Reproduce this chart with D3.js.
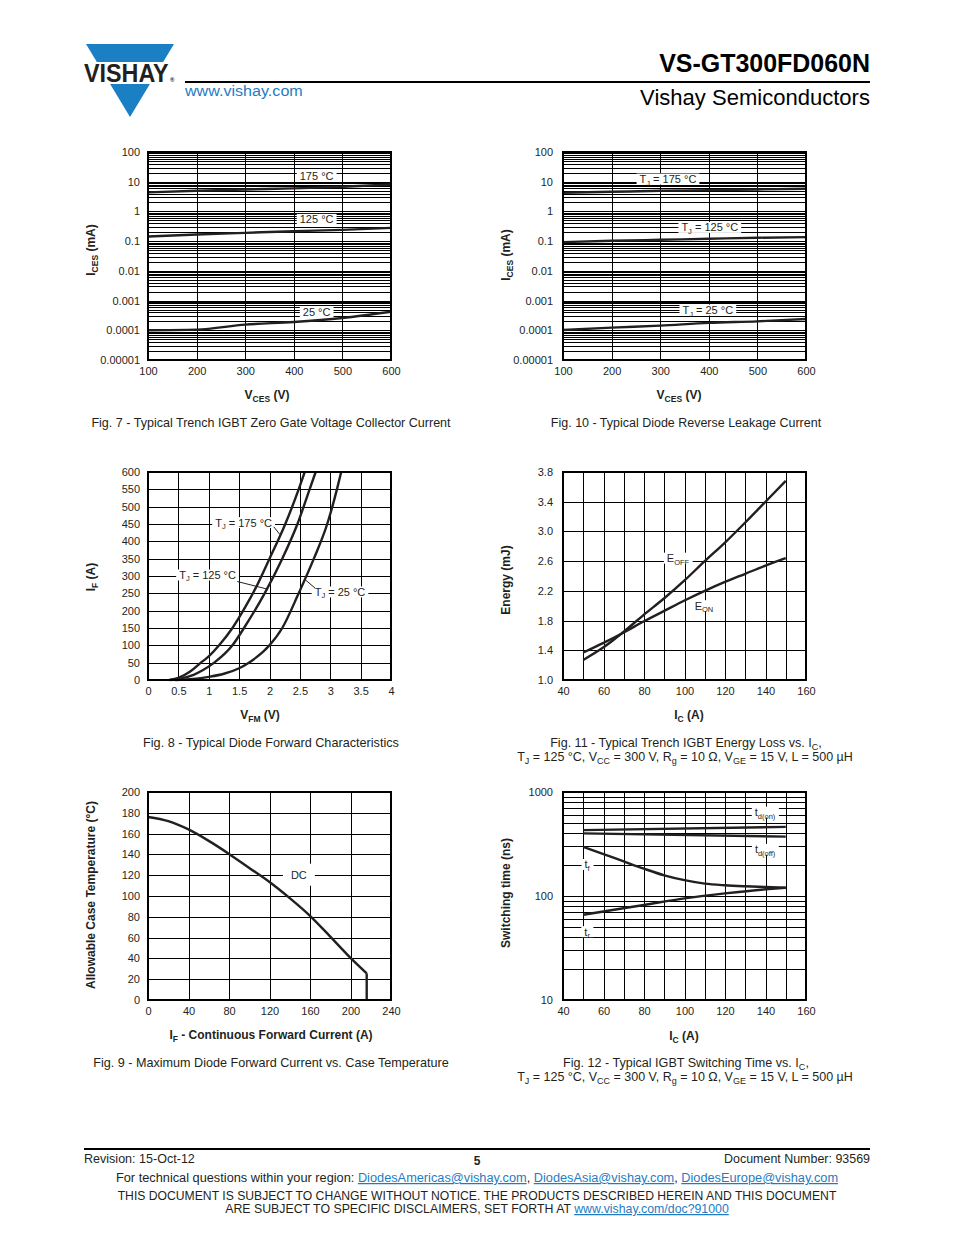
<!DOCTYPE html>
<html><head><meta charset="utf-8">
<script src="https://cdn.jsdelivr.net/npm/d3@7"></script>
<style>
body{margin:0;background:#fff}
svg{display:block}
text{font-family:"Liberation Sans",Arial,Helvetica,sans-serif;fill:#231f20}
</style></head><body>
<svg id="page" width="954" height="1235"></svg>
<script>
// ---------------- DATA ----------------
// Fig. 7 - IGBT zero gate voltage collector current
const fig7Vces = [100, 200, 300, 400, 500, 600];
const fig7Ices175 = [4.36, 4.96, 5.5, 5.95, 6.8, 8.1];
const fig7Ices125 = [0.143, 0.167, 0.19, 0.216, 0.24, 0.28];
const fig7Ices25 = [0.0001, 0.000105, 0.000155, 0.00019, 0.00026, 0.00042];
const fig7XTicks = [100, 200, 300, 400, 500, 600];
const fig7XTickLabels = ["100", "200", "300", "400", "500", "600"];
const fig7YTicks = [0.00001, 0.0001, 0.001, 0.01, 0.1, 1, 10, 100];
const fig7YTickLabels = ["0.00001", "0.0001", "0.001", "0.01", "0.1", "1", "10", "100"];

// Fig. 10 - Diode reverse leakage current
const fig10Vces = [100, 200, 300, 400, 500, 600];
const fig10Ices175 = [4.23, 4.57, 4.95, 5.2, 5.5, 5.8];
const fig10Ices125 = [0.0925, 0.1026, 0.111, 0.12, 0.13, 0.137];
const fig10Ices25 = [0.000102, 0.000123, 0.000144, 0.000177, 0.0002, 0.00024];

// Fig. 8 - Diode forward characteristics
const fig8Vf175 = [0.35, 0.5, 0.7, 0.87, 1.0, 1.17, 1.39, 1.6, 1.8, 2.0, 2.26, 2.48, 2.58];
const fig8If175 = [0, 6, 25, 50, 68, 100, 150, 210, 275, 350, 450, 550, 600];
const fig8Vf125 = [0.37, 0.5, 0.75, 0.9, 1.09, 1.39, 1.58, 1.92, 2.21, 2.46, 2.66, 2.76];
const fig8If125 = [0, 3, 15, 28, 50, 100, 150, 250, 350, 450, 550, 600];
const fig8Vf25 = [0.45, 0.75, 1.0, 1.25, 1.5, 1.66, 2.0, 2.21, 2.48, 2.73, 2.95, 3.11, 3.18];
const fig8If25 = [0, 3, 9, 18, 34, 50, 100, 150, 250, 350, 450, 550, 600];
const fig8XTicks = [0, 0.5, 1, 1.5, 2, 2.5, 3, 3.5, 4];
const fig8XTickLabels = ["0", "0.5", "1", "1.5", "2", "2.5", "3", "3.5", "4"];
const fig8YTicks = [0, 50, 100, 150, 200, 250, 300, 350, 400, 450, 500, 550, 600];

// Fig. 11 - Energy loss vs. IC
const fig11Ic = [50, 60, 70, 80, 90, 100, 110, 120, 130, 140, 150];
const fig11Eoff = [1.27, 1.44, 1.65, 1.88, 2.1, 2.34, 2.6, 2.85, 3.12, 3.4, 3.68];
const fig11Eon = [1.37, 1.5, 1.64, 1.79, 1.93, 2.07, 2.2, 2.32, 2.43, 2.54, 2.64];
const fig11XTicks = [40, 60, 80, 100, 120, 140, 160];
const fig11XGrid = [40, 50, 60, 70, 80, 90, 100, 110, 120, 130, 140, 150, 160];
const fig11YTicks = [1.0, 1.4, 1.8, 2.2, 2.6, 3.0, 3.4, 3.8];
const fig11YTickLabels = ["1.0", "1.4", "1.8", "2.2", "2.6", "3.0", "3.4", "3.8"];

// Fig. 9 - Maximum diode forward current vs. case temperature
const fig9If = [0, 20, 40, 60, 80, 100, 120, 140, 160, 180, 200, 216];
const fig9Tc = [176, 172, 164, 153, 140.5, 127, 113.5, 98, 81, 61, 40.5, 25.6];
const fig9CutoffIf = [216, 216];
const fig9CutoffTc = [25.6, 0];
const fig9XTicks = [0, 40, 80, 120, 160, 200, 240];
const fig9YTicks = [0, 20, 40, 60, 80, 100, 120, 140, 160, 180, 200];

// Fig. 12 - Switching time vs. IC
const fig12IcLine = [50, 150];
const fig12TdOn = [430, 462];
const fig12TdOff = [400, 372];
const fig12IcTf = [50, 60, 70, 80, 90, 100, 110, 120, 130, 140, 150];
const fig12Tf = [297, 253, 215, 183, 158, 142, 131.5, 126.8, 124, 122, 120];
const fig12IcTr = [50, 60, 80, 100, 120, 140, 150];
const fig12Tr = [66, 71, 82, 95, 106, 116, 120];
const fig12YTicks = [10, 100, 1000];
const fig12YTickLabels = ["10", "100", "1000"];

// ---------------- DRAWING ----------------
const svg = d3.select("#page");
const INK = "#231f20";
const BLUE = "#1f7cc1";
const LEFT = [148, 391], RIGHT = [563, 806];
const ROWS = [[152, 360], [472, 680], [792, 1000]];

function addRich(sel, parts, subSize, shift) {
  let pending = 0;
  parts.forEach(p => {
    const isSub = Array.isArray(p);
    const t = sel.append("tspan").text(isSub ? p[0] : p);
    if (isSub) { t.attr("font-size", subSize).attr("dy", shift + pending); pending = -shift; }
    else if (pending) { t.attr("dy", pending); pending = 0; }
  });
  return sel;
}
function fitWidth(sel, target) {
  const w = sel.node().getBBox().width;
  const xx = +sel.attr("x");
  sel.attr("transform", `translate(${xx},0) scale(${target / w},1) translate(${-xx},0)`);
}

function drawPanel(cfg) {
  const [x0, x1] = cfg.xr, [y0, y1] = cfg.yr;
  const x = d3.scaleLinear().domain(cfg.xDomain).range([x0, x1]);
  const y = (cfg.log ? d3.scaleLog() : d3.scaleLinear()).domain(cfg.yDomain).range([y1, y0]);
  const g = svg.append("g");
  const yGrid = cfg.yGrid || y.ticks();

  // grid
  const gg = g.append("g");
  gg.append("g").attr("transform", `translate(0,${y1})`)
    .call(d3.axisBottom(x).tickValues(cfg.xGrid).tickSize(-(y1 - y0)).tickFormat(""));
  gg.append("g").attr("transform", `translate(${x0},0)`)
    .call(d3.axisLeft(y).tickValues(yGrid).tickSize(-(x1 - x0)).tickFormat(""));
  gg.selectAll(".domain").remove();
  gg.selectAll(".tick line").attr("stroke", "#000").attr("stroke-width", 1).attr("shape-rendering", "crispEdges");

  // tick labels
  const ax = g.append("g").attr("transform", `translate(0,${y1})`)
    .call(d3.axisBottom(x).tickValues(cfg.xTicks).tickFormat((d, i) => cfg.xTickLabels[i]).tickSize(0).tickPadding(7));
  const ay = g.append("g").attr("transform", `translate(${x0},0)`)
    .call(d3.axisLeft(y).tickValues(cfg.yTicks).tickFormat((d, i) => cfg.yTickLabels[i]).tickSize(0).tickPadding(cfg.yPad));
  [ax, ay].forEach(a => {
    a.select(".domain").remove();
    a.attr("font-family", null).attr("font-size", null);
    a.selectAll("text").attr("font-size", 11).attr("fill", INK);
  });

  // labels with white boxes
  (cfg.labels || []).forEach(l => {
    const lg = g.append("g");
    const t = lg.append("text").attr("x", x(l.x)).attr("y", y(l.y) + 4)
      .attr("text-anchor", "middle").attr("font-size", 11);
    addRich(t, l.parts, 7.5, 2.5);
    const b = t.node().getBBox();
    const padX = l.padX || 3, h = l.h || 11;
    lg.insert("rect", "text").attr("x", b.x - padX).attr("y", y(l.y) - h / 2)
      .attr("width", b.width + 2 * padX).attr("height", h).attr("fill", "#fff");
  });

  // leaders
  (cfg.leaders || []).forEach(L => {
    g.append("line").attr("x1", x(L[0])).attr("y1", y(L[1])).attr("x2", x(L[2])).attr("y2", y(L[3]))
      .attr("stroke", INK).attr("stroke-width", 1);
  });

  // curves
  cfg.series.forEach(s => {
    const pts = s.x.map((v, i) => [v, s.y[i]]);
    g.append("path")
      .attr("d", d3.line().x(d => x(d[0])).y(d => y(d[1])).curve(s.curve || d3.curveMonotoneX)(pts))
      .attr("fill", "none").attr("stroke", INK).attr("stroke-width", 2.4)
      .attr("stroke-linejoin", "round");
  });

  // frame
  g.append("rect").attr("x", x0).attr("y", y0).attr("width", x1 - x0).attr("height", y1 - y0)
    .attr("fill", "none").attr("stroke", "#000").attr("stroke-width", 2);

  // axis titles
  const xt = g.append("text").attr("x", cfg.xTitlePos[0]).attr("y", cfg.xTitlePos[1])
    .attr("text-anchor", "middle").attr("font-size", 12).attr("font-weight", "bold");
  addRich(xt, cfg.xTitle, 8.5, 3);
  const yt = g.append("text").attr("transform", `translate(${cfg.yTitlePos[0]},${cfg.yTitlePos[1]}) rotate(-90)`)
    .attr("text-anchor", "middle").attr("font-size", 12).attr("font-weight", "bold");
  addRich(yt, cfg.yTitle, 8.5, 3);

  // caption
  cfg.caption.forEach(c => {
    const t = g.append("text").attr("x", c.x).attr("y", c.y).attr("text-anchor", "middle").attr("font-size", 12.5);
    addRich(t, c.parts, 9, 3);
    fitWidth(t, c.w);
  });
}

// Fig 7
drawPanel({
  xr: LEFT, yr: ROWS[0], xDomain: [100, 600], yDomain: [0.00001, 100], log: true,
  xGrid: fig7XTicks, xTicks: fig7XTicks, xTickLabels: fig7XTickLabels,
  yTicks: fig7YTicks, yTickLabels: fig7YTickLabels, yPad: 8,
  series: [{ x: fig7Vces, y: fig7Ices175 }, { x: fig7Vces, y: fig7Ices125 }, { x: fig7Vces, y: fig7Ices25 }],
  labels: [
    { x: 447, y: 15.5, parts: ["175 °C"] },
    { x: 447, y: 0.54, parts: ["125 °C"] },
    { x: 447, y: 0.00041, parts: ["25 °C"] }
  ],
  xTitle: ["V", ["CES"], " (V)"], xTitlePos: [267, 399],
  yTitle: ["I", ["CES"], " (mA)"], yTitlePos: [95, 250],
  caption: [{ x: 271, y: 427, w: 360, parts: ["Fig. 7 - Typical Trench IGBT Zero Gate Voltage Collector Current"] }]
});

// Fig 10
drawPanel({
  xr: RIGHT, yr: ROWS[0], xDomain: [100, 600], yDomain: [0.00001, 100], log: true,
  xGrid: fig7XTicks, xTicks: fig7XTicks, xTickLabels: fig7XTickLabels,
  yTicks: fig7YTicks, yTickLabels: fig7YTickLabels, yPad: 10,
  series: [{ x: fig10Vces, y: fig10Ices175 }, { x: fig10Vces, y: fig10Ices125 }, { x: fig10Vces, y: fig10Ices25 }],
  labels: [
    { x: 316, y: 12.3, parts: ["T", ["J"], " = 175 °C"] },
    { x: 402, y: 0.29, parts: ["T", ["J"], " = 125 °C"] },
    { x: 398, y: 0.00048, parts: ["T", ["J"], " = 25 °C"] }
  ],
  xTitle: ["V", ["CES"], " (V)"], xTitlePos: [679, 399],
  yTitle: ["I", ["CES"], " (mA)"], yTitlePos: [510, 255],
  caption: [{ x: 686, y: 427, w: 271, parts: ["Fig. 10 - Typical Diode Reverse Leakage Current"] }]
});

// Fig 8
drawPanel({
  xr: LEFT, yr: ROWS[1], xDomain: [0, 4], yDomain: [0, 600],
  xGrid: fig8XTicks, xTicks: fig8XTicks, xTickLabels: fig8XTickLabels,
  yGrid: fig8YTicks, yTicks: fig8YTicks, yTickLabels: fig8YTicks.map(String), yPad: 8,
  series: [{ x: fig8Vf175, y: fig8If175 }, { x: fig8Vf125, y: fig8If125 }, { x: fig8Vf25, y: fig8If25 }],
  labels: [
    { x: 1.574, y: 454, parts: ["T", ["J"], " = 175 °C"] },
    { x: 0.98, y: 303, parts: ["T", ["J"], " = 125 °C"] },
    { x: 3.16, y: 254, parts: ["T", ["J"], " = 25 °C"] }
  ],
  leaders: [[2.07, 442, 2.17, 420], [1.47, 284, 1.97, 262], [2.75, 265, 2.57, 292]],
  xTitle: ["V", ["FM"], " (V)"], xTitlePos: [260, 719],
  yTitle: ["I", ["F"], " (A)"], yTitlePos: [95, 577],
  caption: [{ x: 271, y: 747, w: 256, parts: ["Fig. 8 - Typical Diode Forward Characteristics"] }]
});

// Fig 11
drawPanel({
  xr: RIGHT, yr: ROWS[1], xDomain: [40, 160], yDomain: [1.0, 3.8],
  xGrid: fig11XGrid, xTicks: fig11XTicks, xTickLabels: fig11XTicks.map(String),
  yGrid: fig11YTicks, yTicks: fig11YTicks, yTickLabels: fig11YTickLabels, yPad: 10,
  series: [{ x: fig11Ic, y: fig11Eoff }, { x: fig11Ic, y: fig11Eon }],
  labels: [
    { x: 96.8, y: 2.64, parts: ["E", ["OFF"]] },
    { x: 109.6, y: 2.0, parts: ["E", ["ON"]] }
  ],
  xTitle: ["I", ["C"], " (A)"], xTitlePos: [689, 719],
  yTitle: ["Energy (mJ)"], yTitlePos: [510, 580],
  caption: [
    { x: 686, y: 747, w: 272, parts: ["Fig. 11 - Typical Trench IGBT Energy Loss vs. I", ["C"], ","] },
    { x: 685, y: 761, w: 336, parts: ["T", ["J"], " = 125 °C, V", ["CC"], " = 300 V, R", ["g"], " = 10 Ω, V", ["GE"], " = 15 V, L = 500 µH"] }
  ]
});

// Fig 9
drawPanel({
  xr: LEFT, yr: ROWS[2], xDomain: [0, 240], yDomain: [0, 200],
  xGrid: fig9XTicks, xTicks: fig9XTicks, xTickLabels: fig9XTicks.map(String),
  yGrid: fig9YTicks, yTicks: fig9YTicks, yTickLabels: fig9YTicks.map(String), yPad: 8,
  series: [{ x: fig9If, y: fig9Tc }, { x: fig9CutoffIf, y: fig9CutoffTc, curve: d3.curveLinear }],
  labels: [{ x: 149, y: 120.5, parts: ["DC"], padX: 8, h: 22 }],
  xTitle: ["I", ["F"], " - Continuous Forward Current (A)"], xTitlePos: [271, 1039],
  yTitle: ["Allowable Case Temperature (°C)"], yTitlePos: [95, 895],
  caption: [{ x: 271, y: 1067, w: 356, parts: ["Fig. 9 - Maximum Diode Forward Current vs. Case Temperature"] }]
});

// Fig 12
drawPanel({
  xr: RIGHT, yr: ROWS[2], xDomain: [40, 160], yDomain: [10, 1000], log: true,
  xGrid: fig11XGrid, xTicks: fig11XTicks, xTickLabels: fig11XTicks.map(String),
  yTicks: fig12YTicks, yTickLabels: fig12YTickLabels, yPad: 10,
  series: [
    { x: fig12IcLine, y: fig12TdOn, curve: d3.curveLinear },
    { x: fig12IcLine, y: fig12TdOff, curve: d3.curveLinear },
    { x: fig12IcTf, y: fig12Tf },
    { x: fig12IcTr, y: fig12Tr }
  ],
  labels: [
    { x: 139.8, y: 641, parts: ["t", ["d(on)"]] },
    { x: 139.8, y: 281, parts: ["t", ["d(off)"]] },
    { x: 51.9, y: 201, parts: ["t", ["f"]] },
    { x: 51.9, y: 45.4, parts: ["t", ["r"]] }
  ],
  xTitle: ["I", ["C"], " (A)"], xTitlePos: [684, 1040],
  yTitle: ["Switching time (ns)"], yTitlePos: [510, 893],
  caption: [
    { x: 686, y: 1067, w: 246, parts: ["Fig. 12 - Typical IGBT Switching Time vs. I", ["C"], ","] },
    { x: 685, y: 1081, w: 336, parts: ["T", ["J"], " = 125 °C, V", ["CC"], " = 300 V, R", ["g"], " = 10 Ω, V", ["GE"], " = 15 V, L = 500 µH"] }
  ]
});

// ---------------- HEADER ----------------
const logo = svg.append("g");
logo.append("polygon").attr("points", "86,44 174,44 130,117").attr("fill", "#1b7fc3");
logo.append("rect").attr("x", 80).attr("y", 62).attr("width", 100).attr("height", 22).attr("fill", "#fff");
const vt = logo.append("text").attr("x", 84).attr("y", 82).attr("font-size", 25).attr("font-weight", "bold")
  .attr("fill", INK).text("VISHAY");
fitWidth(vt, 85);
logo.append("text").attr("x", 170).attr("y", 82).attr("font-size", 6).attr("font-weight", "bold").text("®");

svg.append("line").attr("x1", 185).attr("x2", 870).attr("y1", 82).attr("y2", 82).attr("stroke", "#000").attr("stroke-width", 2);
const www = svg.append("text").attr("x", 185).attr("y", 96).attr("font-size", 15).style("fill", BLUE).text("www.vishay.com");
fitWidth(www, 119);
const pn = svg.append("text").attr("x", 870).attr("y", 72).attr("text-anchor", "end").attr("font-size", 25)
  .attr("font-weight", "bold").style("fill", "#000").text("VS-GT300FD060N");
fitWidth(pn, 211);
const vs = svg.append("text").attr("x", 870).attr("y", 105).attr("text-anchor", "end").attr("font-size", 22)
  .style("fill", "#000").text("Vishay Semiconductors");
fitWidth(vs, 230);

// ---------------- FOOTER ----------------
svg.append("line").attr("x1", 84).attr("x2", 870).attr("y1", 1149).attr("y2", 1149).attr("stroke", "#000").attr("stroke-width", 2);
const rev = svg.append("text").attr("x", 84).attr("y", 1163).attr("font-size", 12.5).text("Revision: 15-Oct-12");
fitWidth(rev, 111);
svg.append("text").attr("x", 477).attr("y", 1165).attr("text-anchor", "middle").attr("font-size", 12).attr("font-weight", "bold").text("5");
const doc = svg.append("text").attr("x", 870).attr("y", 1163).attr("text-anchor", "end").attr("font-size", 12.5).text("Document Number: 93569");
fitWidth(doc, 146);

function linkLine(yy, w, parts) {
  const t = svg.append("text").attr("x", 477).attr("y", yy).attr("text-anchor", "middle").attr("font-size", 12.5);
  parts.forEach(p => {
    const s = t.append("tspan").text(p.t);
    if (p.link) s.style("fill", BLUE).style("text-decoration", "underline");
  });
  fitWidth(t, w);
}
linkLine(1182, 723, [
  { t: "For technical questions within your region: " },
  { t: "DiodesAmericas@vishay.com", link: true }, { t: ", " },
  { t: "DiodesAsia@vishay.com", link: true }, { t: ", " },
  { t: "DiodesEurope@vishay.com", link: true }
]);
linkLine(1200, 720, [{ t: "THIS DOCUMENT IS SUBJECT TO CHANGE WITHOUT NOTICE. THE PRODUCTS DESCRIBED HEREIN AND THIS DOCUMENT" }]);
linkLine(1213, 504, [
  { t: "ARE SUBJECT TO SPECIFIC DISCLAIMERS, SET FORTH AT " },
  { t: "www.vishay.com/doc?91000", link: true }
]);
</script>
</body></html>
